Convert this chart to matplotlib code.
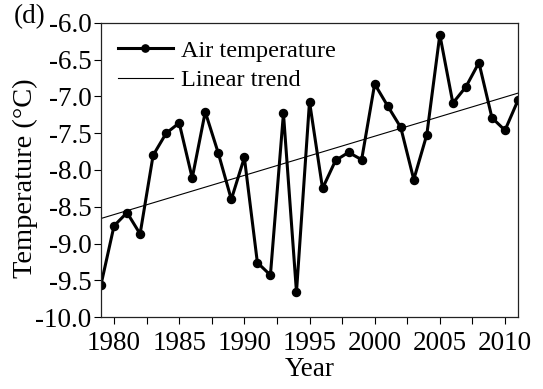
import numpy as np
import matplotlib
matplotlib.use("Agg")
import matplotlib.pyplot as plt
from matplotlib.ticker import MultipleLocator

plt.rcParams['font.family'] = ['Liberation Serif', 'DejaVu Serif']
plt.rcParams['axes.unicode_minus'] = False

years = list(range(1979, 2012))
air_temp = [-9.56, -8.76, -8.58, -8.87, -7.80, -7.50, -7.36, -8.11, -7.21, -7.77,
            -8.40, -7.83, -9.26, -9.43, -7.23, -9.66, -7.07, -8.25, -7.87, -7.76,
            -7.86, -6.83, -7.13, -7.42, -8.13, -7.52, -6.16, -7.09, -6.87, -6.54,
            -7.29, -7.46, -7.05]
x_ticks = [1980, 1985, 1990, 1995, 2000, 2005, 2010]
y_ticks = [-10.0, -9.5, -9.0, -8.5, -8.0, -7.5, -7.0, -6.5, -6.0]

fs = 19.5
leg_fs = 17.5
fig = plt.figure(figsize=(5.43, 3.89), dpi=100)
ax = fig.add_axes([0.186, 0.185, 0.768, 0.756])

ax.plot(years, air_temp, color='black', lw=2.2, marker='o', ms=5.8,
        label='Air temperature')
slope, intercept = np.polyfit(years, air_temp, 1)
tx = np.array([1979, 2011])
ax.plot(tx, slope * tx + intercept, color='black', lw=0.8, label='Linear trend')

ax.set_xlim(1979, 2011)
ax.set_ylim(-10.0, -6.0)
ax.set_xticks(x_ticks)
ax.xaxis.set_minor_locator(MultipleLocator(2.5))
ax.set_yticks(y_ticks)
ax.set_yticklabels([f"{v:.1f}" for v in y_ticks])
ax.tick_params(which='both', direction='out', length=5, width=0.8, labelsize=fs)
ax.tick_params(axis='x', pad=5)
ax.tick_params(axis='y', pad=2)
for s in ax.spines.values():
    s.set_linewidth(0.9)
    s.set_color('#222222')

ax.set_xlabel('Year', fontsize=fs, labelpad=1)
ax.set_ylabel('Temperature (°C)', fontsize=20.5, labelpad=-2)
ax.yaxis.label.set_y(0.473)
fig.text(0.026, 0.957, '(d)', fontsize=fs, ha='left', va='center')

leg = ax.legend(loc='upper left', frameon=False, fontsize=leg_fs, handlelength=2.25,
                handletextpad=0.35, borderaxespad=0.35, labelspacing=0.3,
                borderpad=0.35, markerscale=0.9)

fig.savefig('out.png', dpi=100)
